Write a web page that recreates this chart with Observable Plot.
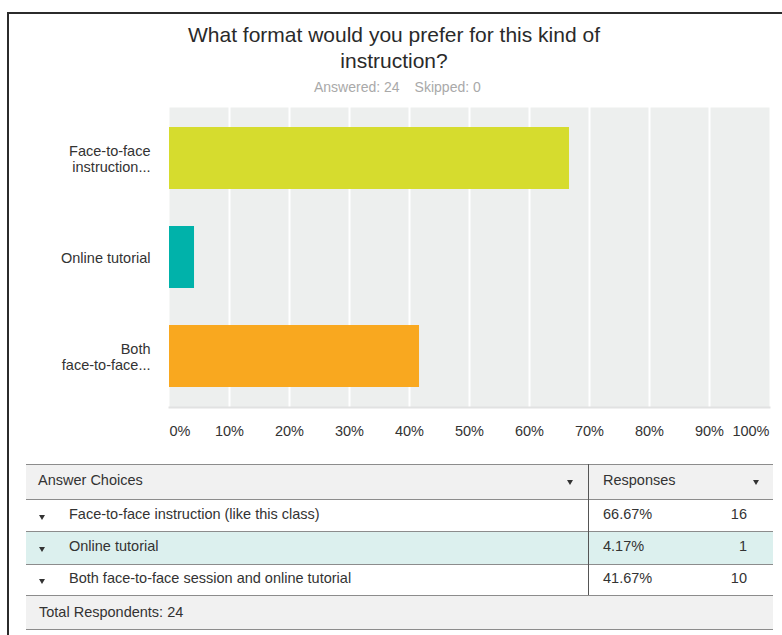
<!DOCTYPE html>
<html>
<head>
<meta charset="utf-8">
<script src="https://cdn.jsdelivr.net/npm/d3@7"></script>
<script src="https://cdn.jsdelivr.net/npm/@observablehq/plot@0.6"></script>
<style>
  html, body { margin: 0; padding: 0; background: #fff; overflow: hidden; }
  body { width: 782px; height: 635px; position: relative; font-family: "Liberation Sans", Arial, Helvetica, sans-serif; color: #333; }
  .abs { position: absolute; white-space: nowrap; }
  #frame { position: absolute; left: 7px; top: 12px; width: 800px; height: 640px; border-left: 2px solid #2b2b2b; border-top: 2px solid #2b2b2b; }
  #title { left: 0; width: 788px; top: 22px; text-align: center; font-size: 21px; line-height: 25.5px; color: #2a2a2a; }
  #subtitle { left: 314px; top: 79px; font-size: 14px; line-height: 16px; color: #a9a9a9; }
  #chart { position: absolute; left: 0; top: 100px; }
  .t { font-size: 14.5px; line-height: 17px; color: #333; }
  .hline { position: absolute; left: 26px; width: 747px; height: 1px; background: #8c8c8c; }
  .bg { position: absolute; left: 26px; width: 747px; }
  .arrow { position: absolute; width: 0; height: 0; border-left: 3px solid transparent; border-right: 3px solid transparent; border-top: 5px solid #333; }
</style>
</head>
<body>
<div id="frame"></div>
<div id="title" class="abs">What format would you prefer for this kind of<br>instruction?</div>
<div id="subtitle" class="abs"><span>Answered: 24</span><span style="margin-left:15px">Skipped: 0</span></div>
<div id="chart"></div>
<div id="table"></div>
<script>
// ---- data ----
const categories = [
  "Face-to-face instruction (like this class)",
  "Online tutorial",
  "Both face-to-face session and online tutorial"
];
const shortLabels = ["Face-to-face\ninstruction...", "Online tutorial", "Both\nface-to-face..."];
const percents = [66.67, 4.17, 41.67];
const counts = [16, 1, 10];
const barColors = ["#d6dc2e", "#00b2aa", "#f9a81f"];
const xTicks = [0, 10, 20, 30, 40, 50, 60, 70, 80, 90, 100];
const totalRespondents = 24;
const answered = 24, skipped = 0;

const data = categories.map((c, i) => ({cat: c, short: shortLabels[i], pct: percents[i], n: counts[i], color: barColors[i]}));
const shortOf = new Map(data.map(d => [d.cat, d.short]));
const fmt = d => d + "%";

const chart = Plot.plot({
  width: 782,
  height: 345,
  marginTop: 7,
  marginBottom: 38,
  marginLeft: 169,
  marginRight: 13,
  style: {fontFamily: "'Liberation Sans', Arial, Helvetica, sans-serif", fontSize: "14.5px", color: "#333", background: "transparent"},
  x: {domain: [0, 100], label: null},
  y: {domain: categories, paddingInner: 0.37, paddingOuter: 0.19, label: null},
  color: {type: "identity"},
  marks: [
    Plot.frame({fill: "#edefee"}),
    Plot.ruleX(xTicks.slice(1, -1), {stroke: "#ffffff", strokeWidth: 2}),
    Plot.frame({anchor: "bottom", stroke: "#e1e2e2", strokeWidth: 2}),
    Plot.barX(data, {x: "pct", y: "cat", fill: "color"}),
    Plot.axisY({label: null, tickSize: 0, tickPadding: 19, tickFormat: d => shortOf.get(d), lineHeight: 1.1, fontSize: 14.5}),
    Plot.axisX({label: null, ticks: xTicks.slice(0, 1), tickSize: 0, tickPadding: 18, textAnchor: "start", tickFormat: fmt, fontSize: 14.5}),
    Plot.axisX({label: null, ticks: xTicks.slice(1, -1), tickSize: 0, tickPadding: 18, tickFormat: fmt, fontSize: 14.5}),
    Plot.axisX({label: null, ticks: xTicks.slice(-1), tickSize: 0, tickPadding: 18, textAnchor: "end", tickFormat: fmt, fontSize: 14.5})
  ]
});
document.getElementById("chart").appendChild(chart);

// ---- table ----
const table = document.getElementById("table");
function el(html) { const t = document.createElement("div"); t.innerHTML = html; const n = t.firstElementChild; table.appendChild(n); return n; }
const BASE = 13.5; // baseline offset inside 17px line box
function text(str, x, baseline, opts = {}) {
  const n = el(`<div class="abs t"></div>`);
  n.textContent = str;
  n.style.top = (baseline - BASE) + "px";
  if (opts.right) { n.style.right = (782 - x) + "px"; n.style.textAlign = "right"; }
  else n.style.left = x + "px";
  return n;
}
function arrow(cx, top) { const a = el(`<div class="arrow"></div>`); a.style.left = (cx - 3) + "px"; a.style.top = top + "px"; }
function bg(top, h, color) { const b = el(`<div class="bg"></div>`); b.style.top = top + "px"; b.style.height = h + "px"; b.style.background = color; }
function hline(y) { const l = el(`<div class="hline"></div>`); l.style.top = y + "px"; }

bg(464, 35, "#f1f1f1");
const rowTops = [499, 531, 564, 595];
const rowBg = ["#ffffff", "#dcf0ee", "#ffffff"];
data.forEach((d, i) => bg(rowTops[i], rowTops[i + 1] - rowTops[i], rowBg[i]));
bg(595, 34, "#f1f1f1");
[464, 499, 531, 564, 595, 629].forEach(hline);
const vline = el(`<div style="position:absolute;left:588px;top:464px;width:1px;height:131px;background:#555"></div>`);

text("Answer Choices", 38, 485.5);
arrow(570, 480);
text("Responses", 603, 485.5);
arrow(756, 480);
const baselines = [519.3, 551.7, 583.3];
data.forEach((d, i) => {
  arrow(41.5, baselines[i] - 4.5);
  text(d.cat, 69, baselines[i]);
  text(d.pct.toFixed(2) + "%", 603, baselines[i]);
  text(String(d.n), 747, baselines[i], {right: true});
});
text("Total Respondents: " + totalRespondents, 39, 617.7);
</script>
</body>
</html>
